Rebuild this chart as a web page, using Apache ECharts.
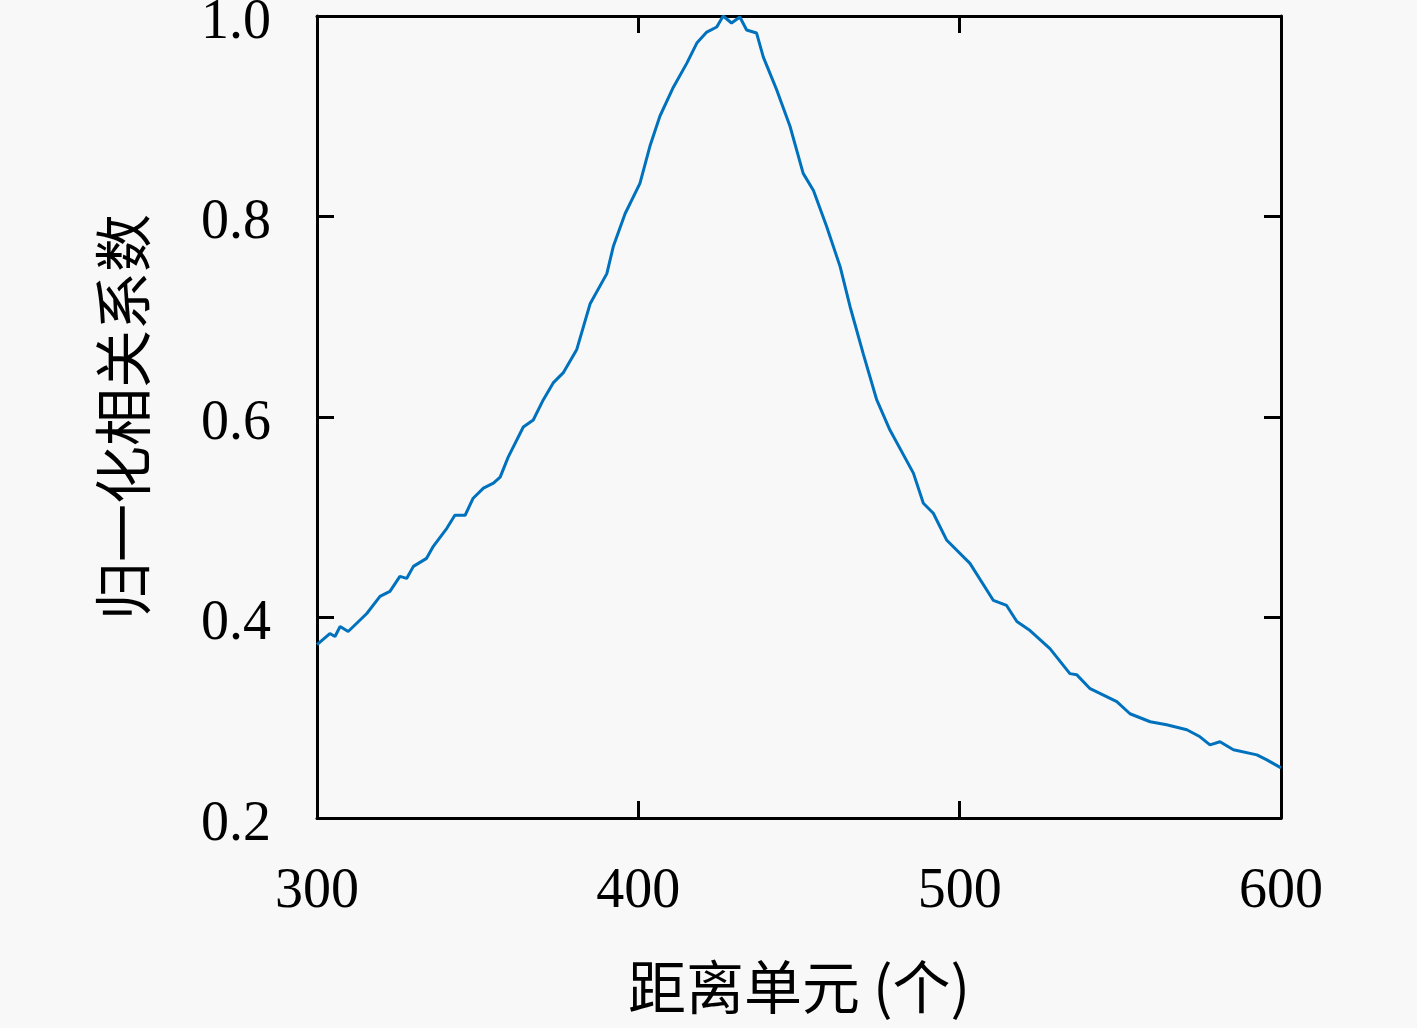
<!DOCTYPE html>
<html lang="zh-CN">
<head>
    <meta charset="UTF-8">
    <title>归一化相关系数</title>
    <script type="text/javascript" src="https://cdn.jsdelivr.net/npm/echarts@6/dist/echarts.min.js"></script>
    <style>
        html, body { margin: 0; padding: 0; background: #f8f8f8; }
    </style>
</head>
<body>
    <div id="main" style="width: 1417px;height:1028px;"></div>

    <script type="text/javascript">
    // 距离单元
    var cells = [
        300, 304.0, 305.6, 307.2, 309.7, 315.5, 319.6, 322.7, 325.8, 327.9,
        330.0, 334.1, 336.2, 340.4, 342.9, 346.1, 348.6, 351.8, 354.9, 357.0,
        359.5, 364.2, 367.3, 370.4, 373.5, 376.6, 380.8, 385.0, 390.2, 392.2,
        395.9, 400.5, 403.6, 406.7, 410.9, 415.1, 418.2, 421.3, 424.4, 426.4,
        429.0, 431.6, 433.7, 436.8, 438.9, 443.1, 447.2, 451.3, 454.5, 458.6,
        462.8, 465.9, 470.0, 474.2, 478.3, 485.6, 488.7, 491.8, 496.0, 503.2,
        510.5, 514.6, 517.8, 521.9, 528.1, 534.3, 536.4, 540.6, 548.9, 553.0,
        559.3, 564.4, 570.7, 574.8, 577.9, 581.0, 585.2, 592.5, 595.6, 600
    ];
    // 归一化相关系数
    var coef = [
        0.373, 0.384, 0.381, 0.391, 0.386, 0.404, 0.421, 0.426, 0.441, 0.439,
        0.451, 0.459, 0.471, 0.489, 0.502, 0.502, 0.519, 0.529, 0.534, 0.540,
        0.560, 0.590, 0.597, 0.617, 0.634, 0.644, 0.667, 0.713, 0.743, 0.770,
        0.803, 0.833, 0.870, 0.900, 0.929, 0.953, 0.973, 0.984, 0.989, 1.000,
        0.993, 0.999, 0.986, 0.983, 0.959, 0.926, 0.890, 0.843, 0.826, 0.790,
        0.750, 0.710, 0.663, 0.617, 0.587, 0.544, 0.514, 0.504, 0.477, 0.454,
        0.417, 0.412, 0.396, 0.387, 0.369, 0.344, 0.343, 0.329, 0.316, 0.304,
        0.296, 0.293, 0.288, 0.281, 0.273, 0.276, 0.268, 0.263, 0.258, 0.250
    ];
    var xTicks = [300, 400, 500, 600];
    var yTicks = [0.2, 0.4, 0.6, 0.8, 1.0];

    var lineBlue = '#0072BD';
    var frame = '#000000';
    var numFont = '"Liberation Serif", "DejaVu Serif", serif';
    var cjkFont = '"Noto Sans CJK SC", sans-serif';

    var pts = cells.map(function (c, i) { return [c, coef[i]]; });

    var axisLine = { show: true, onZero: false, lineStyle: { color: frame, width: 3 } };
    var axisTick = { show: true, inside: true, length: 17, lineStyle: { color: frame, width: 3 } };

    var myChart = echarts.init(document.getElementById('main'));
    var option = {
        backgroundColor: '#f8f8f8',
        animation: false,
        grid: { left: 317, right: 136, top: 16, bottom: 210, outerBoundsMode: 'none', containLabel: false },
        xAxis: [
            {
                type: 'value', position: 'bottom',
                min: xTicks[0], max: xTicks[xTicks.length - 1], interval: 100,
                axisLine: axisLine, axisTick: axisTick, splitLine: { show: false },
                axisLabel: { margin: 46, color: '#000', fontFamily: numFont, fontSize: 56 },
                name: '距离单元 (个)', nameLocation: 'middle', nameGap: 140,
                nameTextStyle: { color: '#000', fontFamily: cjkFont, fontSize: 58 }
            },
            {
                type: 'value', position: 'top',
                min: xTicks[0], max: xTicks[xTicks.length - 1], interval: 100,
                axisLine: axisLine, axisTick: axisTick, splitLine: { show: false },
                axisLabel: { show: false }
            }
        ],
        yAxis: [
            {
                type: 'value', position: 'left',
                min: yTicks[0], max: yTicks[yTicks.length - 1], interval: 0.2,
                axisLine: axisLine, axisTick: axisTick, splitLine: { show: false },
                axisLabel: {
                    margin: 46, color: '#000', fontFamily: numFont, fontSize: 56,
                    verticalAlign: 'top', lineHeight: 14,
                    formatter: function (v) { return v.toFixed(1); }
                },
                name: '归一化相关系数', nameLocation: 'middle', nameGap: 165, nameRotate: 90,
                nameTextStyle: { color: '#000', fontFamily: cjkFont, fontSize: 58 }
            },
            {
                type: 'value', position: 'right',
                min: yTicks[0], max: yTicks[yTicks.length - 1], interval: 0.2,
                axisLine: axisLine, axisTick: axisTick, splitLine: { show: false },
                axisLabel: { show: false }
            }
        ],
        series: [
            {
                name: '归一化相关系数',
                type: 'line',
                xAxisIndex: 0, yAxisIndex: 0,
                showSymbol: false,
                lineStyle: { color: lineBlue, width: 3 },
                data: pts
            }
        ]
    };
    myChart.setOption(option);
    </script>
</body>
</html>
